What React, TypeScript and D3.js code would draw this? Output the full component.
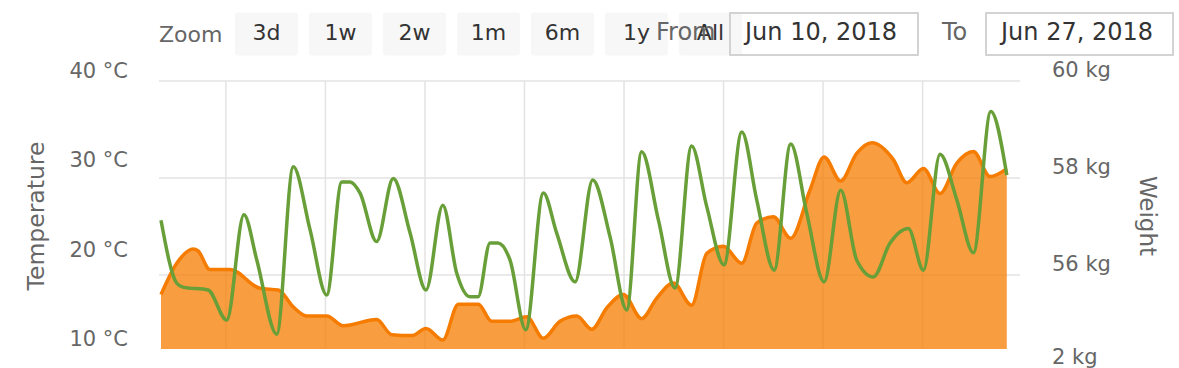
import React, { useEffect, useRef } from "react";
import * as d3 from "d3";

// hours since Jun 10, 2018 00:00
const tempHours = [0, 7.6, 15.6, 17.8, 23.6, 33.3, 47.7, 56.6, 63.8, 70.3, 79.9, 87.9, 104, 111.3, 120.9, 127.8, 135.9, 143.4, 153, 159.5, 168.3, 176.4, 184.4, 192.4, 200.5, 207.7, 215, 223, 231.8, 239.1, 247.1, 255.9, 263.2, 271.2, 280.1, 287.3, 295.3, 303.7, 313, 319.8, 327.8, 335.5, 342.8, 353.2, 359.7, 367.7, 375.7, 383.8, 391.8, 399.8, 407.9];
const tempValues = [16.1, 19.6, 21.2, 21.0, 18.9, 18.9, 16.8, 16.6, 14.7, 13.7, 13.7, 12.6, 13.3, 11.6, 11.5, 12.3, 11.0, 15.0, 15.0, 13.1, 13.1, 13.6, 11.2, 13.1, 13.7, 12.2, 14.6, 16.1, 13.4, 15.7, 17.4, 14.9, 20.7, 21.5, 19.6, 24.1, 24.8, 22.4, 27.8, 31.5, 28.8, 31.9, 33.1, 31.2, 28.6, 30.2, 27.4, 30.8, 32.1, 29.3, 30.2];

const weightHours = [0, 7.6, 10.6, 22.7, 31.7, 40, 46.2, 55.8, 63.8, 71.9, 79.9, 87.2, 91.2, 96, 104, 112, 120.1, 127.8, 135.9, 142.6, 149, 152.9, 158.7, 162.5, 168.3, 175.9, 184.4, 190.8, 199.7, 208.2, 216.6, 224.6, 231.8, 239.9, 247.9, 255.9, 263.2, 271.5, 280.1, 287.3, 295.7, 303.7, 311.4, 319.8, 327.8, 335.5, 343.5, 351.6, 360.4, 367.7, 375.7, 383.8, 391.8, 400.2, 407.9];
const weightValues = [57.13, 55.83, 55.75, 55.69, 55.07, 57.24, 56.31, 54.78, 58.23, 56.93, 55.59, 57.92, 57.92, 57.69, 56.69, 57.99, 56.87, 55.69, 57.44, 56.04, 55.55, 55.55, 56.66, 56.66, 56.31, 54.87, 57.69, 56.87, 55.86, 57.96, 56.78, 55.28, 58.54, 57.13, 55.73, 58.66, 57.41, 56.21, 58.95, 57.55, 56.10, 58.70, 57.28, 55.86, 57.75, 56.31, 55.96, 56.66, 56.96, 56.10, 58.49, 57.55, 56.46, 59.37, 58.06];

const gridHours = [31.3, 79.3, 127.3, 175.3, 223.3, 271.3, 319.3, 367.3];
const tempTicks = [10, 20, 30, 40];
const tempTickLabels = ["10 °C", "20 °C", "30 °C", "40 °C"];
const weightTicks = [54, 56, 58, 60];
const weightTickLabels = ["2 kg", "56 kg", "58 kg", "60 kg"];
const zoomButtons = ["3d", "1w", "2w", "1m", "6m", "1y", "All"];
const fromDate = "Jun 10, 2018";
const toDate = "Jun 27, 2018";

const FONT = "'DejaVu Sans', sans-serif";

export default function App() {
    const ref = useRef<SVGSVGElement>(null);

    useEffect(() => {
        const svg = d3.select(ref.current);
        svg.selectAll("*").remove();

        const left = 159, right = 1020, top = 81, bottom = 349;

        const x = d3.scaleLinear().domain([0, 408]).range([161, 1007]);
        const yTemp = d3.scaleLinear().domain([10, 40]).range([bottom, top]);
        const yWeight = d3.scaleLinear().domain([56, 60]).range([275, top]);

        svg.append("defs").append("clipPath").attr("id", "plotClip")
            .append("rect")
            .attr("x", left).attr("y", top - 40)
            .attr("width", right - left).attr("height", bottom - top + 40);

        // range selector
        svg.append("text")
            .attr("x", 159).attr("y", 42)
            .attr("font-size", 22).attr("fill", "#666")
            .text("Zoom");

        const btn = svg.append("g");
        btn.selectAll("rect").data(zoomButtons).enter().append("rect")
            .attr("x", (d, i) => 235 + i * 74).attr("y", 12.5)
            .attr("width", 63).attr("height", 43).attr("rx", 3)
            .attr("fill", "#f7f7f7");

        svg.append("text")
            .attr("x", 656).attr("y", 40)
            .attr("font-size", 24).attr("fill", "#666")
            .text("From");

        btn.selectAll("text").data(zoomButtons).enter().append("text")
            .attr("x", (d, i) => 235 + i * 74 + 31.5).attr("y", 40)
            .attr("text-anchor", "middle")
            .attr("font-size", 22).attr("fill", "#333")
            .text(d => d);

        svg.append("rect")
            .attr("x", 730).attr("y", 13).attr("width", 188).attr("height", 42)
            .attr("fill", "none").attr("stroke", "#ccc").attr("stroke-width", 1.7);
        svg.append("text")
            .attr("x", 745).attr("y", 40)
            .attr("font-size", 24).attr("fill", "#333")
            .text(fromDate);

        svg.append("text")
            .attr("x", 942).attr("y", 40)
            .attr("font-size", 24).attr("fill", "#666")
            .text("To");
        svg.append("rect")
            .attr("x", 986).attr("y", 13).attr("width", 187).attr("height", 42)
            .attr("fill", "#fff").attr("stroke", "#ccc").attr("stroke-width", 1.7);
        svg.append("text")
            .attr("x", 1001).attr("y", 40)
            .attr("font-size", 24).attr("fill", "#333")
            .text(toDate);

        // grid
        svg.append("g").selectAll("line").data(weightTicks.filter(d => yWeight(d) <= bottom)).enter().append("line")
            .attr("x1", left).attr("x2", right)
            .attr("y1", d => yWeight(d)).attr("y2", d => yWeight(d))
            .attr("stroke", "#e3e3e3").attr("stroke-width", 1.5);
        svg.append("g").selectAll("line").data(gridHours).enter().append("line")
            .attr("x1", d => x(d)).attr("x2", d => x(d))
            .attr("y1", top).attr("y2", bottom)
            .attr("stroke", "#e3e3e3").attr("stroke-width", 1.5);

        // axis labels
        svg.append("g").selectAll("text").data(tempTicks).enter().append("text")
            .attr("x", 128).attr("y", d => yTemp(d) - 3)
            .attr("text-anchor", "end")
            .attr("font-size", 21).attr("fill", "#666")
            .text((d, i) => tempTickLabels[i]);
        svg.append("g").selectAll("text").data(weightTicks).enter().append("text")
            .attr("x", 1052).attr("y", d => Math.min(yWeight(d) - 4, 364))
            .attr("font-size", 21).attr("fill", "#666")
            .text((d, i) => weightTickLabels[i]);

        svg.append("text")
            .attr("transform", "translate(44,216) rotate(-90)")
            .attr("text-anchor", "middle")
            .attr("font-size", 23.5).attr("fill", "#666")
            .text("Temperature");
        svg.append("text")
            .attr("transform", "translate(1140,216) rotate(90)")
            .attr("text-anchor", "middle")
            .attr("font-size", 23).attr("fill", "#666")
            .text("Weight");

        // series
        const plot = svg.append("g").attr("clip-path", "url(#plotClip)");
        const temp = tempHours.map((h, i) => [h, tempValues[i]]);
        const weight = weightHours.map((h, i) => [h, weightValues[i]]);

        const area = d3.area<number[]>()
            .x(d => x(d[0]))
            .y0(bottom)
            .y1(d => yTemp(d[1]))
            .curve(d3.curveMonotoneX);
        const tempLine = d3.line<number[]>()
            .x(d => x(d[0]))
            .y(d => yTemp(d[1]))
            .curve(d3.curveMonotoneX);
        const weightLine = d3.line<number[]>()
            .x(d => x(d[0]))
            .y(d => yWeight(d[1]))
            .curve(d3.curveMonotoneX);

        plot.append("path").attr("d", area(temp))
            .attr("fill", "#f57c00").attr("fill-opacity", 0.75);
        plot.append("path").attr("d", tempLine(temp))
            .attr("fill", "none").attr("stroke", "#f57c00").attr("stroke-width", 3.5);
        plot.append("path").attr("d", weightLine(weight))
            .attr("fill", "none").attr("stroke", "#689f38").attr("stroke-width", 3.5);
    }, []);

    return (
        <div style={{ position: "absolute", left: 0, top: 0 }}>
            <svg ref={ref} width={1179} height={368} style={{ display: "block", fontFamily: FONT }} />
        </div>
    );
}
